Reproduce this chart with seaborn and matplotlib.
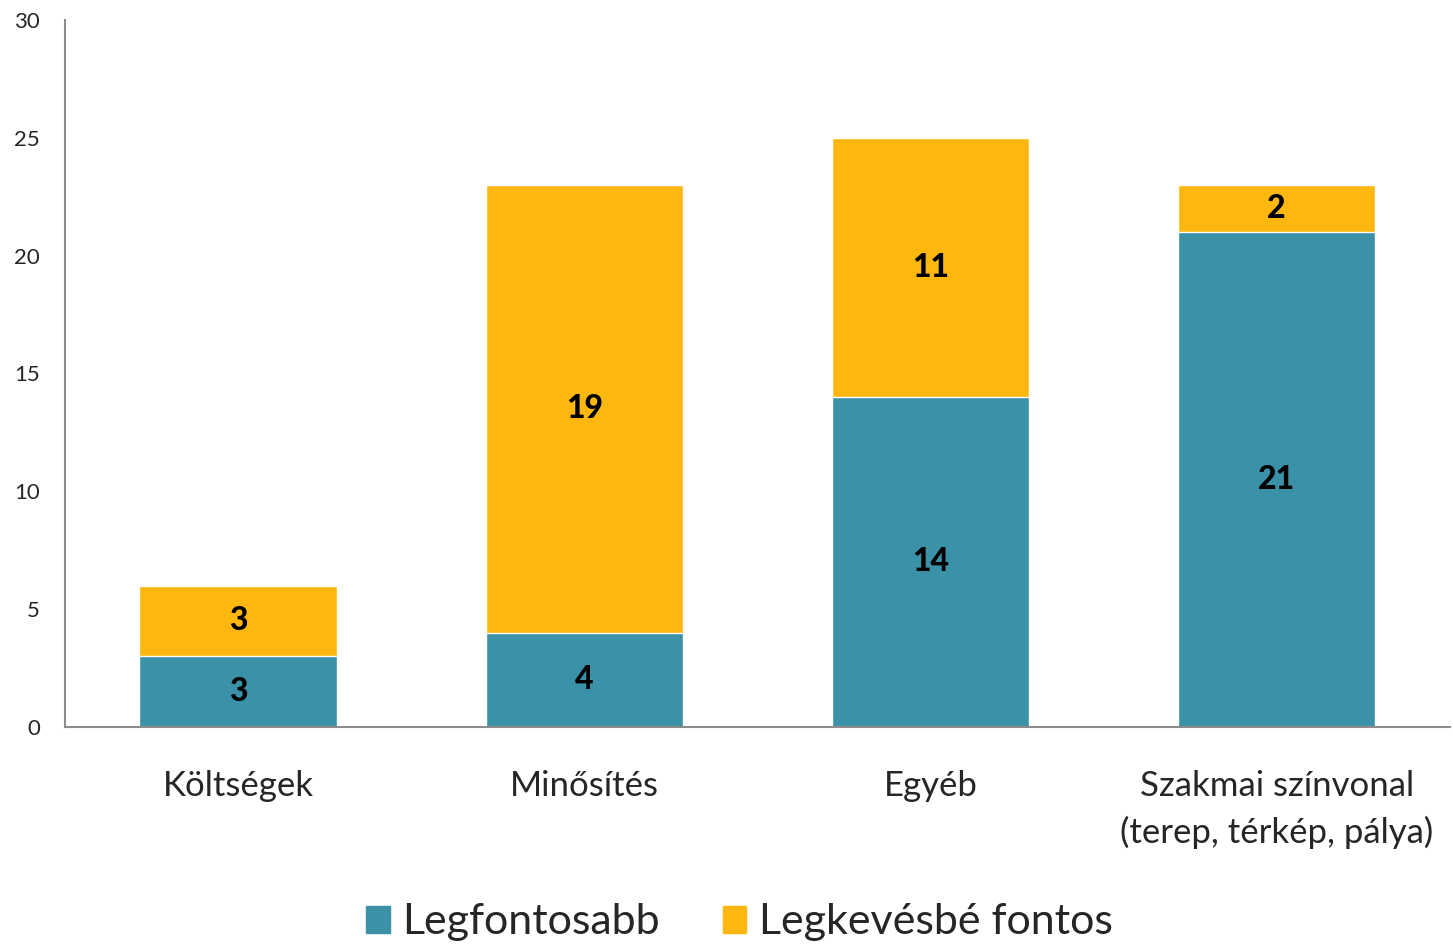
import pandas as pd
import seaborn as sns
import matplotlib.pyplot as plt
from matplotlib.patches import Patch

categories = ["Költségek", "Minősítés", "Egyéb", "Szakmai színvonal\n(terep, térkép, pálya)"]
legfontosabb = [3, 4, 14, 21]
legkevesbe = [3, 19, 11, 2]
series_names = ["Legfontosabb", "Legkevésbé fontos"]
yticks = [0, 5, 10, 15, 20, 25, 30]

teal = "#3A91A8"
yellow = "#FDB70F"

df = pd.DataFrame({"cat": categories, "bottom": legfontosabb, "top": legkevesbe})
df["total"] = df["bottom"] + df["top"]

sns.set_style("white")
plt.rcParams["font.family"] = ["Lato", "DejaVu Sans"]

fig = plt.figure(figsize=(14.53, 9.49), dpi=100)
ax = fig.add_axes([0.0447, 0.234, 0.953, 0.745])

# stacked: total in yellow, bottom part in teal on top of it
sns.barplot(data=df, x="cat", y="total", color=yellow, width=0.57, ax=ax, saturation=1)
sns.barplot(data=df, x="cat", y="bottom", color=teal, width=0.57, ax=ax, saturation=1)

for i, row in df.iterrows():
    ax.text(i, row["bottom"] / 2, str(row["bottom"]), ha="center", va="center",
            fontsize=23, fontweight="black", color="black")
    ax.text(i, row["bottom"] + row["top"] / 2, str(row["top"]), ha="center", va="center",
            fontsize=23, fontweight="black", color="black")

ax.set_xlim(-0.5, 3.5)
ax.set_ylim(0, 30)
ax.set_yticks(yticks)
ax.set_xlabel("")
ax.set_ylabel("")
ax.tick_params(axis="y", length=0, pad=18, labelsize=16)
ax.tick_params(axis="x", length=0, pad=31, labelsize=25)
for lab in ax.get_xticklabels():
    lab.set_linespacing(1.5)

for s in ["top", "right"]:
    ax.spines[s].set_visible(False)
for s in ["left", "bottom"]:
    ax.spines[s].set_color("#8C8C8C")
    ax.spines[s].set_linewidth(1.5)

handles = [Patch(color=teal, label=series_names[0]), Patch(color=yellow, label=series_names[1])]
fig.legend(handles=handles, loc="center", ncol=2, frameon=False, fontsize=31,
           bbox_to_anchor=(0.509, 0.028), handlelength=0.55, handleheight=0.6,
           handletextpad=0.3, columnspacing=1.45)

fig.savefig("out.png", dpi=100)
